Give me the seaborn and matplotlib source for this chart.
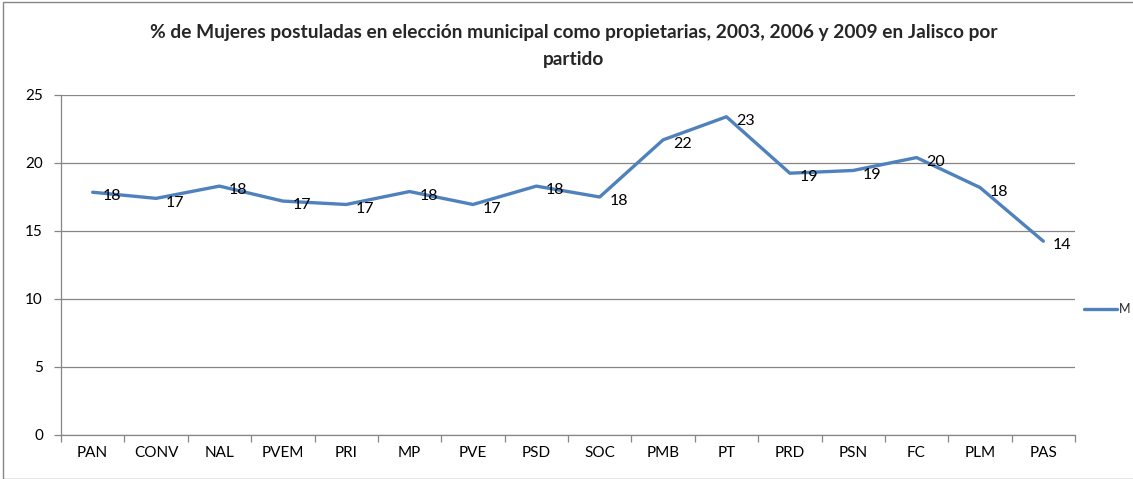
import matplotlib
matplotlib.use("Agg")
import matplotlib.pyplot as plt
import seaborn as sns
import pandas as pd
import numpy as np
from matplotlib.ticker import MultipleLocator, FixedLocator

partidos = ["PAN", "CONV", "NAL", "PVEM", "PRI", "MP", "PVE", "PSD", "SOC",
            "PMB", "PT", "PRD", "PSN", "FC", "PLM", "PAS"]
valores = [17.85, 17.4, 18.3, 17.2, 16.95, 17.9, 16.95, 18.3, 17.5,
           21.7, 23.4, 19.25, 19.45, 20.4, 18.2, 14.25]
serie = "M"
titulo = "% de Mujeres postuladas en elección municipal como propietarias, 2003, 2006 y 2009 en Jalisco por\npartido"

sns.set_theme(style="white")
plt.rcParams['font.family'] = ['Lato', 'DejaVu Sans']

df = pd.DataFrame({"partido": partidos, "valor": valores, "serie": serie})

W, H = 1133, 479
fig = plt.figure(figsize=(W / 100, H / 100), dpi=100)
ax = fig.add_axes([61 / W, 1 - 435 / H, (1075 - 61) / W, (435 - 95) / H])

sns.lineplot(data=df, x="partido", y="valor", hue="serie", sort=False,
             palette=["#4F81BD"], linewidth=2.4, ax=ax, legend=True)

gray = "#868686"
ax.set_ylim(0, 25)
ax.set_xlim(-0.5, len(partidos) - 0.5)
ax.yaxis.set_major_locator(MultipleLocator(5))
ax.grid(axis="y", color=gray, linewidth=0.9)
ax.grid(axis="x", visible=False)
for s in ["top", "right"]:
    ax.spines[s].set_visible(False)
for s in ["left", "bottom"]:
    ax.spines[s].set_color(gray)
    ax.spines[s].set_linewidth(0.9)

ax.set_xticks(range(len(partidos)))
ax.set_xticklabels(partidos)
ax.xaxis.set_minor_locator(FixedLocator(np.arange(-0.5, len(partidos), 1.0)))
ax.tick_params(axis="x", which="major", length=0, pad=8, labelsize=11, colors="black")
ax.tick_params(axis="x", which="minor", length=5, width=0.9, color=gray, direction="out", bottom=True)
ax.tick_params(axis="y", which="major", length=5, width=0.9, color=gray, direction="out",
               left=True, pad=8, labelsize=11, labelcolor="black")
ax.set_xlabel("")
ax.set_ylabel("")

for i, v in enumerate(valores):
    ax.annotate(f"{round(v):.0f}", (i, v), xytext=(7, -3), textcoords="offset points",
                ha="left", va="center", fontsize=11.5, color="black")

leg = ax.legend(loc="center left", bbox_to_anchor=(1.004, 0.37), frameon=False,
                fontsize=9, handlelength=2.6, handletextpad=0.2, borderaxespad=0)
for t in leg.get_texts():
    t.set_text(serie)

fig.text(574 / W, 1 - 46 / H, titulo, ha="center", va="center", fontsize=13.8,
         fontweight="bold", linespacing=1.7)

fig.patches.append(plt.Rectangle((3 / W, 0), 1.2, 1 - 1.5 / H, transform=fig.transFigure,
                                 fill=False, edgecolor=gray, linewidth=1.0))

fig.savefig("out.png", dpi=100)
